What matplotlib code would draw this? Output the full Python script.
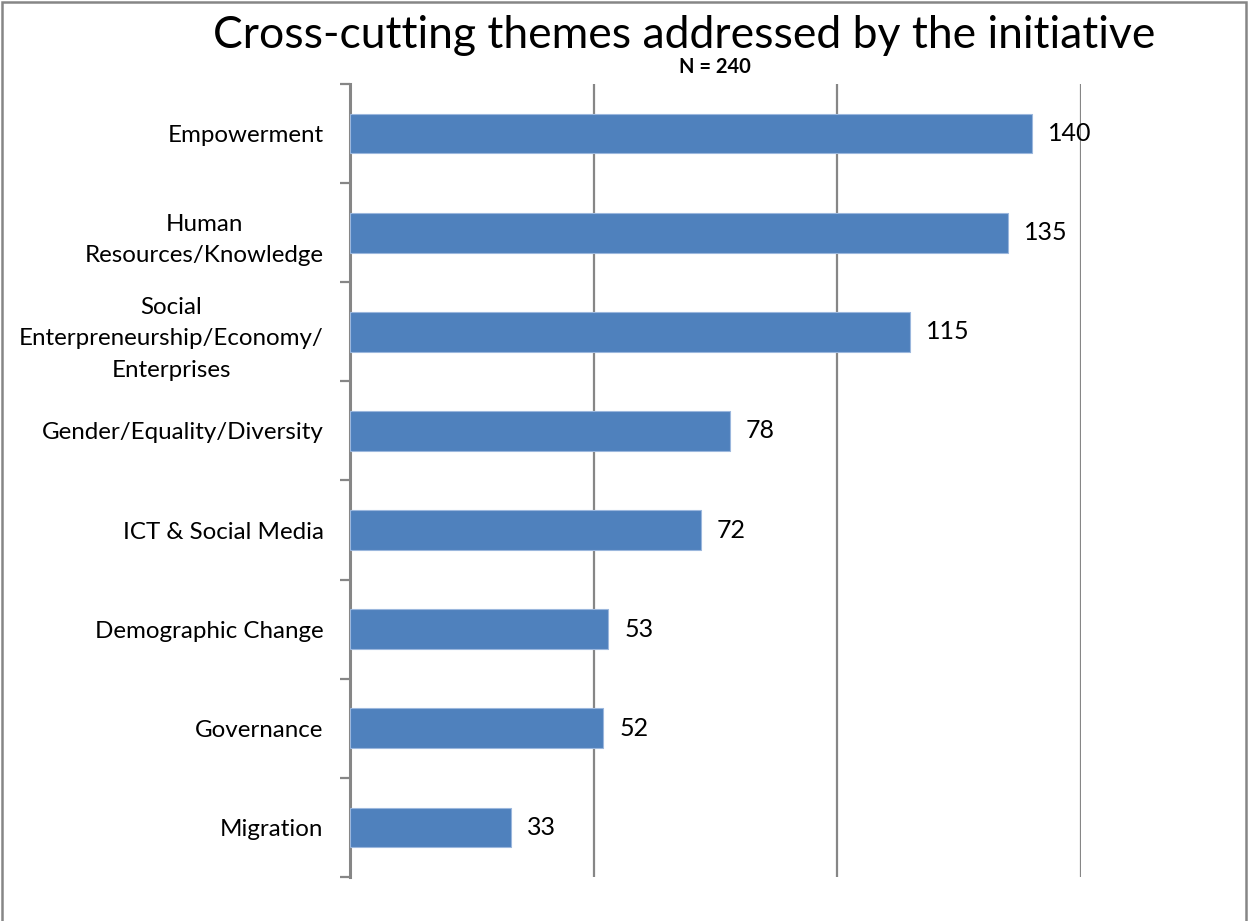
import matplotlib
matplotlib.use("Agg")
import matplotlib.pyplot as plt
from matplotlib.patches import Rectangle

themes = [
    "Empowerment",
    "Human\nResources/Knowledge",
    "Social\nEnterpreneurship/Economy/\nEnterprises",
    "Gender/Equality/Diversity",
    "ICT & Social Media",
    "Demographic Change",
    "Governance",
    "Migration",
]
counts = [140, 135, 115, 78, 72, 53, 52, 33]
title = "Cross-cutting themes addressed by the initiative"
subtitle = "N = 240"

plt.rcParams["font.family"] = ["Lato", "DejaVu Sans"]

W, H = 1248, 921
fig = plt.figure(figsize=(W / 100, H / 100), dpi=100)
ax = fig.add_axes([350 / W, 1 - 877 / H, (1081 - 350) / W, (877 - 84) / H])

grey = "#868686"
pos = list(range(len(themes)))
ax.barh(pos, counts, height=0.4, color="#4F81BD", edgecolor="#9BB7DD", linewidth=0.8, zorder=3)

for p, v in zip(pos, counts):
    ax.annotate(str(v), xy=(v, p), xytext=(11.5, 0), textcoords="offset points",
                ha="left", va="center", fontsize=18, color="black", zorder=4)

ax.set_xlim(0, 150)
ax.set_ylim(len(themes) - 0.5, -0.5)
ax.set_xticks([50, 100, 150])
ax.xaxis.grid(True, color=grey, linewidth=1.6, zorder=1)
ax.tick_params(axis="x", length=0, labelbottom=False)

# category labels centred between boundary ticks
ax.set_yticks(pos)
ax.set_yticklabels(themes, fontsize=17.4)
for lbl in ax.get_yticklabels():
    lbl.set_multialignment("center")
    lbl.set_linespacing(1.6)
ax.tick_params(axis="y", which="major", length=0, pad=19)
ax.set_yticks([p - 0.5 for p in pos] + [len(themes) - 0.5], minor=True)
ax.tick_params(axis="y", which="minor", length=7, width=1.6, color=grey, direction="out")

for s in ("top", "right", "bottom"):
    ax.spines[s].set_visible(False)
ax.spines["left"].set_color(grey)
ax.spines["left"].set_linewidth(2.2)

fig.text(684 / W, 1 - 36 / H, title, ha="center", va="center", fontsize=32)
fig.text(715 / W, 1 - 67 / H, subtitle, ha="center", va="center", fontsize=14.5, fontweight="bold")

# outer frame
fig.patches.append(Rectangle((2 / W, -0.01), (W - 4) / W, 1 - 2 / H + 0.01,
                             transform=fig.transFigure, fill=False,
                             edgecolor=grey, linewidth=1.8))

fig.savefig("out.png", dpi=100)
